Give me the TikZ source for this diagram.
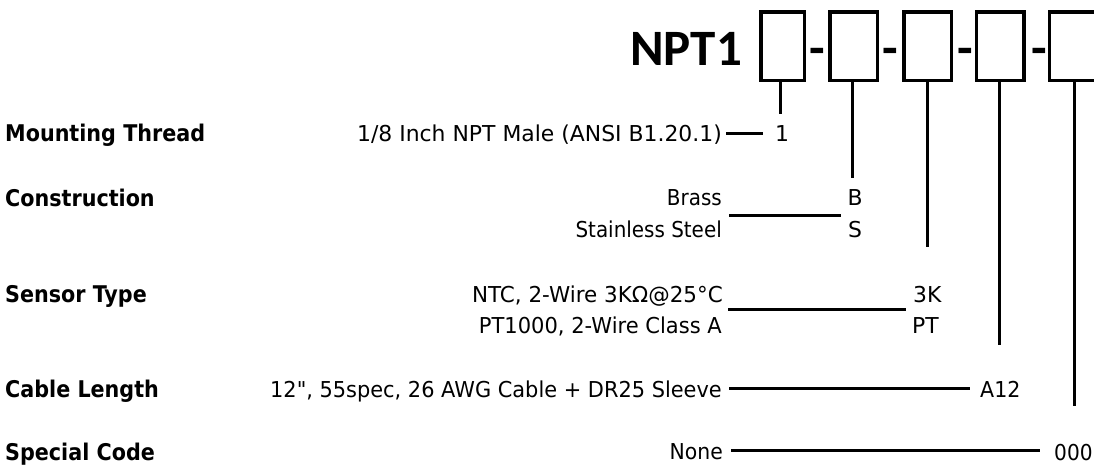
\documentclass[tikz,border=0pt]{standalone}
\usepackage{fontspec}
\setmainfont{DejaVu Sans}[Ligatures=TeXOff]
\newfontfamily\titlefam{Carlito}
\newcommand{\descfont}{\fontsize{21.9}{26}\selectfont}
\newcommand{\lblfont}{\fontsize{23}{27}\selectfont\bfseries}
\newcommand{\ttlfont}{\titlefam\fontsize{51}{56}\selectfont\bfseries}
\tikzset{
  lbl/.style={anchor=base west, inner sep=0pt, font=\lblfont},
  desc/.style={anchor=base east, inner sep=0pt, font=\descfont},
  code/.style={anchor=base west, inner sep=0pt, font=\descfont},
  cbox/.style={draw, line width=3.5pt, minimum width=47.5pt, minimum height=68.5pt, inner sep=0pt},
  hy/.style={anchor=base, inner sep=0pt, font=\ttlfont},
  conn/.style={line width=3pt}
}
\begin{document}
\begin{tikzpicture}[x=1pt,y=-1pt]
\useasboundingbox[fill=white] (0,0) rectangle (1094,467);
% title and boxes
\node[anchor=base west, inner sep=0pt, font=\ttlfont] (title) at (630,65) {NPT1};
\node[cbox, minimum width=43.5pt] (b1) at (782.5,46) {};
\node[cbox] (b2) at (853.5,46) {};
\node[cbox] (b3) at (927.5,46) {};
\node[cbox] (b4) at (1000,46) {};
\node[cbox] (b5) at (1073,46) {};
\node[hy] (h1) at (817.5,65) {-};
\node[hy] (h2) at (890.5,65) {-};
\node[hy] (h3) at (965.5,65) {-};
\node[hy] (h4) at (1039.5,65) {-};
% left labels
\node[lbl] (mt) at (5,141) {\scalebox{0.9}[1]{Mounting Thread}};
\node[lbl] (co) at (5,206) {\scalebox{0.9}[1]{Construction}};
\node[lbl] (st) at (5,302) {\scalebox{0.9}[1]{Sensor Type}};
\node[lbl] (cl) at (5,397) {\scalebox{0.9}[1]{Cable Length}};
\node[lbl] (sc) at (5,460) {\scalebox{0.9}[1]{Special Code}};
% descriptions
\node[desc] (d1) at (722,141) {1/8 Inch NPT Male (ANSI B1.20.1)};
\node[desc] (d2a) at (722,205) {\scalebox{0.91}[1]{Brass}};
\node[desc] (d2b) at (722,237) {\scalebox{0.91}[1]{Stainless Steel}};
\node[desc] (d3a) at (723,302) {\scalebox{0.98}[1]{NTC, 2-Wire 3KΩ@25°C}};
\node[desc] (d3b) at (722,333) {\scalebox{0.96}[1]{PT1000, 2-Wire Class A}};
\node[desc] (d4) at (722,397) {\scalebox{0.954}[1]{12", 55spec, 26 AWG Cable + DR25 Sleeve}};
\node[desc] (d5) at (723,459) {\scalebox{0.93}[1]{None}};
% codes
\node[code, anchor=base] (c1) at (782,141) {1};
\node[code, anchor=base] (c2a) at (855,205) {B};
\node[code, anchor=base] (c2b) at (855,237) {S};
\node[code] (c3a) at (913,302) {3K};
\node[code] (c3b) at (912,333) {PT};
\node[code] (c4) at (980,397) {\scalebox{0.94}[1]{A12}};
\node[code] (c5) at (1054,460) {\scalebox{0.92}[1]{000}};
% connector end points
\coordinate (v1) at (780,114);
\coordinate (v2) at (852,178);
\coordinate (v3) at (927,247);
\coordinate (v4) at (999,345);
\coordinate (v5) at (1074,406);
\coordinate (l1s) at (726,133); \coordinate (l1e) at (763,133);
\coordinate (l2s) at (729,215); \coordinate (l2e) at (841,215);
\coordinate (l3s) at (728,309); \coordinate (l3e) at (906,309);
\coordinate (l4s) at (729,388); \coordinate (l4e) at (970,388);
\coordinate (l5s) at (731,450); \coordinate (l5e) at (1040,450);
% vertical connectors
\draw[conn] (b1.south -| v1) -- (v1);
\draw[conn] (b2.south -| v2) -- (v2);
\draw[conn] (b3.south -| v3) -- (v3);
\draw[conn] (b4.south -| v4) -- (v4);
\draw[conn] (b5.south -| v5) -- (v5);
% horizontal connectors
\draw[conn] (l1s) -- (l1e);
\draw[conn] (l2s) -- (l2e);
\draw[conn] (l3s) -- (l3e);
\draw[conn] (l4s) -- (l4e);
\draw[conn] (l5s) -- (l5e);
\end{tikzpicture}
\end{document}
